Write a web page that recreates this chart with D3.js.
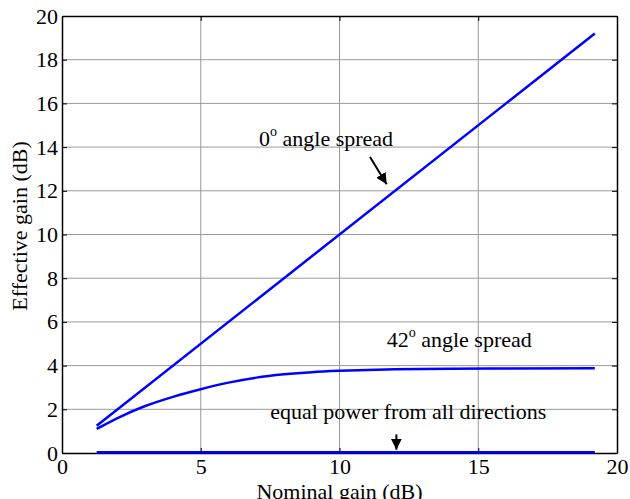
<!DOCTYPE html>
<html>
<head>
<meta charset="utf-8">
<script src="https://cdn.jsdelivr.net/npm/d3@7"></script>
<style>
    body { margin: 0; background: #fff; }
    svg text { font-family: "Liberation Serif", "Times New Roman", serif; fill: #000; }
</style>
</head>
<body>
<div id="chart"></div>
<script>
// nominal gain (dB) and effective gain (dB)
var nominal0 = [1.25, 19.2];
var effective0 = [1.25, 19.2];

var nominal42 = [1.25, 2, 3, 4, 5, 6, 7, 8, 9, 10, 11, 12, 14, 16, 19.2];
var effective42 = [1.1, 1.6, 2.15, 2.57, 2.92, 3.22, 3.45, 3.6, 3.7, 3.76, 3.8, 3.83, 3.86, 3.87, 3.88];

var nominalEq = [1.25, 19.2];
var effectiveEq = [0.03, 0.03];

var xTicks = [0, 5, 10, 15, 20];
var yTicks = [0, 2, 4, 6, 8, 10, 12, 14, 16, 18, 20];

var w = 630,
    h = 499,
    padLeft = 62,
    padRight = 617,
    padTop = 16,
    padBottom = 453,
    fs = 22;

var svg = d3.select("#chart")
    .append("svg")
    .attr("width", w)
    .attr("height", h);

var x = d3.scaleLinear().domain([0, 20]).range([padLeft, padRight]);
var y = d3.scaleLinear().domain([0, 20]).range([padBottom, padTop]);

// grid
svg.append("g")
    .selectAll("line")
    .data(xTicks.slice(1, -1))
    .enter()
    .append("line")
    .attr("x1", function (d) { return x(d); })
    .attr("x2", function (d) { return x(d); })
    .attr("y1", padTop)
    .attr("y2", padBottom)
    .attr("stroke", "#9a9a9a")
    .attr("stroke-width", 1);

svg.append("g")
    .selectAll("line")
    .data(yTicks.slice(1, -1))
    .enter()
    .append("line")
    .attr("x1", padLeft)
    .attr("x2", padRight)
    .attr("y1", function (d) { return y(d); })
    .attr("y2", function (d) { return y(d); })
    .attr("stroke", "#9a9a9a")
    .attr("stroke-width", 1);

// axes, ticks inside like matlab
var xAxis = d3.axisBottom(x).tickValues(xTicks).tickSizeInner(-5).tickSizeOuter(0).tickPadding(5);
var yAxis = d3.axisLeft(y).tickValues(yTicks).tickSizeInner(-5).tickSizeOuter(0).tickPadding(4);

svg.append("g")
    .attr("transform", "translate(0," + padBottom + ")")
    .call(xAxis);
svg.append("g")
    .attr("transform", "translate(" + padLeft + ",0)")
    .call(yAxis);

svg.append("g")
    .attr("transform", "translate(0," + padTop + ")")
    .call(d3.axisTop(x).tickValues(xTicks).tickSizeInner(-5).tickSizeOuter(0).tickFormat(""));
svg.append("g")
    .attr("transform", "translate(" + padRight + ",0)")
    .call(d3.axisRight(y).tickValues(yTicks).tickSizeInner(-5).tickSizeOuter(0).tickFormat(""));

svg.selectAll(".domain").attr("stroke", "#000").attr("stroke-width", 1.5);
svg.selectAll(".tick line").attr("stroke", "#000");
svg.selectAll(".tick text")
    .attr("font-family", "Liberation Serif, serif")
    .attr("font-size", fs)
    .attr("fill", "#000");

// curves
var line = d3.line()
    .curve(d3.curveMonotoneX)
    .x(function (d) { return x(d[0]); })
    .y(function (d) { return y(d[1]); });

function pairs(a, b) {
    var out = [];
    for (var i = 0; i < a.length; i++) {
        out.push([a[i], b[i]]);
    }
    return out;
}

[pairs(nominal0, effective0), pairs(nominal42, effective42), pairs(nominalEq, effectiveEq)].forEach(function (s) {
    svg.append("path")
        .datum(s)
        .attr("fill", "none")
        .attr("stroke", "#0000ff")
        .attr("stroke-width", 2.5)
        .attr("d", line);
});

// annotations
function label(px, py, main, sup, rest) {
    var t = svg.append("text")
        .attr("x", px)
        .attr("y", py)
        .attr("font-size", fs);
    t.append("tspan").text(main);
    t.append("tspan").attr("font-size", 14).attr("dy", -10).text(sup);
    t.append("tspan").attr("dy", 10).text(rest);
}

label(x(7.1), y(14.05), "0", "o", " angle spread");
label(x(11.7), y(4.85), "42", "o", " angle spread");

svg.append("text")
    .attr("x", x(7.5))
    .attr("y", y(1.55))
    .attr("font-size", fs)
    .text("equal power from all directions");

svg.append("defs").append("marker")
    .attr("id", "head")
    .attr("viewBox", "0 0 10 10")
    .attr("refX", 10)
    .attr("refY", 5)
    .attr("markerWidth", 5.5)
    .attr("markerHeight", 5.5)
    .attr("orient", "auto")
    .append("path")
    .attr("d", "M0,0 L10,5 L0,10 Z")
    .attr("fill", "#000");

function arrow(x1, y1, x2, y2) {
    svg.append("line")
        .attr("x1", x(x1)).attr("y1", y(y1))
        .attr("x2", x(x2)).attr("y2", y(y2))
        .attr("stroke", "#000")
        .attr("stroke-width", 2)
        .attr("marker-end", "url(#head)");
}

arrow(11.1, 13.55, 11.7, 12.3);
arrow(12.05, 0.85, 12.05, 0.15);

// axis titles
svg.append("text")
    .attr("x", (padLeft + padRight) / 2)
    .attr("y", 499)
    .attr("text-anchor", "middle")
    .attr("font-size", fs)
    .text("Nominal gain (dB)");

svg.append("text")
    .attr("transform", "translate(27," + 226 + ") rotate(-90)")
    .attr("text-anchor", "middle")
    .attr("font-size", fs)
    .text("Effective gain (dB)");
</script>
</body>
</html>
